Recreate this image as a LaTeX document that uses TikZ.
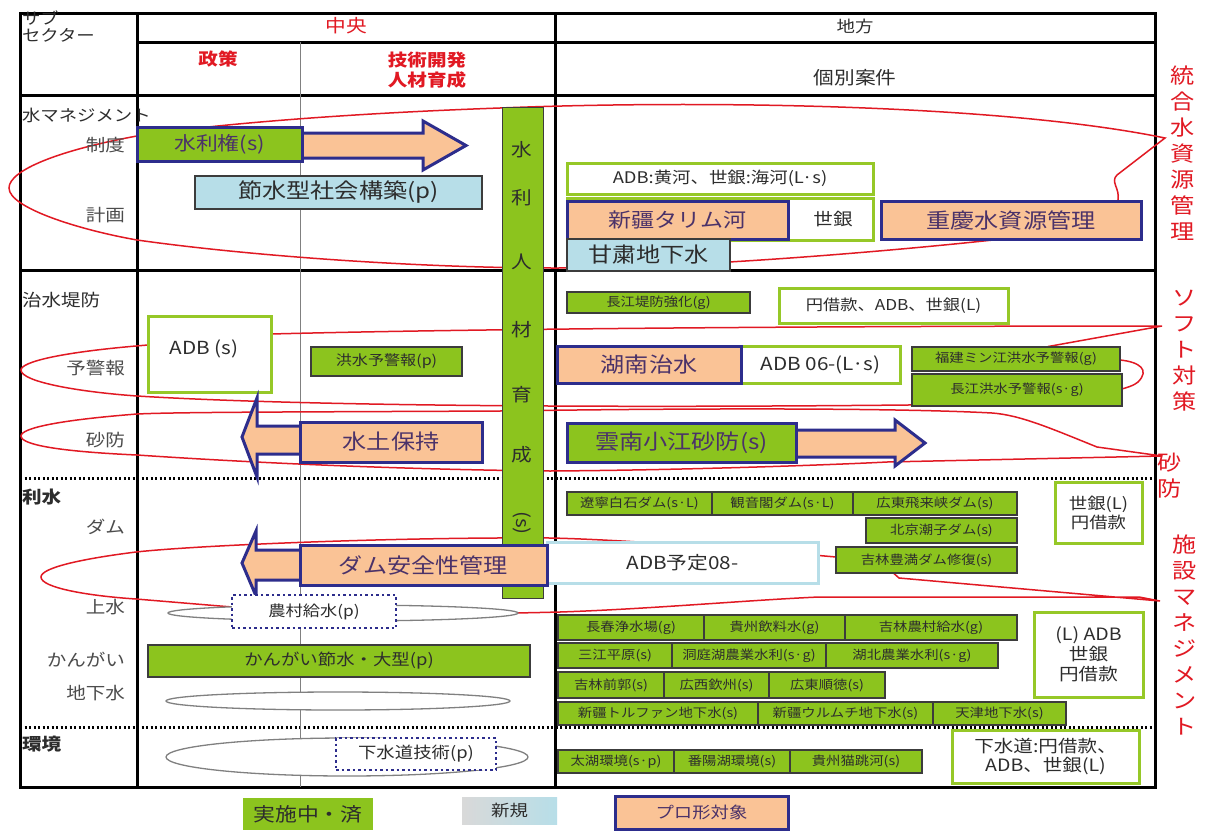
\documentclass[tikz,border=0pt]{standalone}
\usepackage{fontspec}
\setmainfont{Noto Sans CJK JP}[FakeStretch=1.15]
\definecolor{cgreen}{RGB}{140,196,30}
\definecolor{corange}{RGB}{250,195,150}
\definecolor{cnavy}{RGB}{45,45,140}
\definecolor{cblue}{RGB}{183,222,232}
\definecolor{cgb}{RGB}{150,200,40}
\definecolor{cred}{RGB}{225,25,35}
\definecolor{ctext}{RGB}{45,45,45}
\definecolor{cpurp}{RGB}{75,50,105}
\definecolor{cbord}{RGB}{60,60,60}
\newcommand\fs[2]{\fontsize{#1}{#2}\selectfont}
\newcommand\B[8][]{\node[#2,anchor=north west,minimum width={#6pt-#4pt},minimum height={#7pt-#5pt},#1] (#3) at (#4,#5) {#8};}
\tikzset{
 every node/.style={inner sep=0pt,outer sep=0pt,text=ctext},
 gbox/.style={fill=cgreen,draw=cbord,line width=1.2pt,font=\fs{12.5}{15}},
 gnbox/.style={fill=cgreen,draw=cnavy,line width=3pt,font=\fs{21}{25},text=cpurp},
 obox/.style={fill=corange,draw=cnavy,line width=3pt,font=\fs{21}{25},text=cpurp},
 bbox/.style={fill=cblue,draw=cbord,line width=1.2pt,font=\fs{21}{25}},
 wbox/.style={fill=white,draw=cgb,line width=3pt,font=\fs{16}{19},align=center},
 lbbox/.style={fill=white,draw=cblue,line width=3pt,font=\fs{18}{21}},
 dbox/.style={fill=white,draw=cnavy,line width=2.5pt,dash pattern=on 2.5pt off 3pt,font=\fs{15}{18}},
 oarrow/.style={fill=corange,draw=cnavy,line width=3pt,line join=miter},
 rloop/.style={draw=cred,line width=1.5pt},
 gell/.style={draw=gray,line width=1.3pt,fill=white},
 tline/.style={draw=black,line width=3pt},
 dline/.style={draw=black,line width=3pt,dash pattern=on 2pt off 2.5pt},
 hdr/.style={font=\fs{17}{20}},
 redh/.style={font=\bfseries\fs{17}{20},text=cred,align=center},
 labl/.style={font=\fs{16}{19},anchor=west},
 labr/.style={font=\fs{17}{20},anchor=east,text=black!70},
 rlab/.style={font=\fs{21}{26},text=cred,align=center,anchor=north},
 vch/.style={font=\fs{18}{20}},
}
\begin{document}
\begin{tikzpicture}[x=1pt,y=-1pt]
\useasboundingbox (0,0) rectangle (1210,830);
\fill[white] (0,0) rectangle (1210,830);

% ---- table ----
\draw[tline] (20,13) rectangle (1155,787);
\draw[tline] (137,42) -- (1155,42);
\draw[tline] (20,95) -- (1155,95);
\draw[tline] (137,13) -- (137,787);
\draw[tline] (555,13) -- (555,787);
\draw[tline] (20,270) -- (1155,270);
\draw[dline] (20,478) -- (1155,478);
\draw[dline] (20,727) -- (1155,727);
\draw[draw=gray,line width=1pt] (300,42) -- (300,787);

% ---- red loops ----
\draw[rloop] (1165,138) .. controls (1000,104) and (700,100) .. (500,108)
 .. controls (330,114) and (200,126) .. (137,136)
 .. controls (60,150) and (9,170) .. (9,188)
 .. controls (9,208) and (80,230) .. (137,240)
 .. controls (250,256) and (420,268) .. (555,268)
 .. controls (700,268) and (900,250) .. (993,240)
 .. controls (1080,228) and (1116,214) .. (1118,200)
 .. controls (1120,188) and (1110,182) .. (1117,175)
 -- cycle;
\draw[rloop] (1162,326) .. controls (900,326) and (500,328) .. (271,334)
 -- (148,345)
 .. controls (60,352) and (21,362) .. (21,370)
 .. controls (21,382) and (80,392) .. (137,396)
 .. controls (300,406) and (600,408) .. (908,405)
 .. controls (1050,402) and (1125,394) .. (1138,382)
 .. controls (1150,370) and (1140,362) .. (1120,360)
 .. controls (1090,355) and (1065,350) .. (1051,346)
 -- cycle;
\draw[rloop] (1162,456) -- (1097,447)
 .. controls (1050,428) and (1020,415) .. (992,413)
 .. controls (900,408) and (700,408) .. (500,411)
 .. controls (300,412) and (180,412) .. (137,414)
 .. controls (60,420) and (21,428) .. (21,436)
 .. controls (21,446) and (70,452) .. (137,455)
 .. controls (300,466) and (450,470) .. (550,471)
 .. controls (700,470) and (850,464) .. (887,462)
 -- cycle;
\draw[rloop] (1160,601) -- (899,578) -- (890,570) -- (836,557)
 .. controls (700,545) and (600,539) .. (550,538)
 .. controls (400,537) and (200,545) .. (136,552)
 .. controls (80,559) and (41,568) .. (41,577)
 .. controls (41,588) and (90,596) .. (136,599)
 -- (232,607) -- (396,613)
 .. controls (480,614) and (520,613) .. (560,612)
 .. controls (650,609) and (750,600) .. (819,597)
 -- (1139,597) -- cycle;

% ---- gray ellipses ----
\draw[gell] (343,613) ellipse [x radius=175,y radius=8];
\draw[gell] (338,701) ellipse [x radius=172,y radius=9];
\draw[gell] (347,757) ellipse [x radius=181,y radius=19];

% ---- header texts ----
\node[hdr,anchor=north west,align=left,font=\fs{16}{17}] (sub) at (22,11) {サブ\\セクター};
\node[hdr,text=cred,font=\fs{18}{21}] (chuo) at (346,26) {中央};
\node[hdr,font=\fs{16}{19}] (chiho) at (855,26) {地方};
\node[redh] (seisaku) at (218,59) {政策};
\node[redh] (gijutsu) at (427,70) {技術開発\\人材育成};
\node[hdr,font=\fs{18}{21}] (kobetsu) at (855,78) {個別案件};

% ---- row labels ----
\node[labl] (r1) at (22,115) {水マネジメント};
\node[labr] (r1a) at (125,145) {制度};
\node[labr] (r1b) at (125,215) {計画};
\node[labl,font=\fs{17}{20}] (r2) at (22,300) {治水堤防};
\node[labr] (r2a) at (125,368) {予警報};
\node[labr] (r2b) at (125,440) {砂防};
\node[labl,font=\bfseries\fs{17}{20}] (r3) at (22,497) {利水};
\node[labr] (r3a) at (125,527) {ダム};
\node[labr] (r3b) at (125,607) {上水};
\node[labr] (r3c) at (125,660) {かんがい};
\node[labr] (r3d) at (125,693) {地下水};
\node[labl,font=\bfseries\fs{17}{20}] (r4) at (22,744) {環境};

% ---- right red labels ----
\node[rlab] (L1) at (1183,66) {統\\合\\水\\資\\源\\管\\理};
\node[rlab] (L2) at (1185,290) {ソ\\フ\\ト\\対\\策};
\node[rlab] (L3) at (1170,453) {砂\\防};
\node[rlab] (L4) at (1185,535) {施\\設\\マ\\ネ\\ジ\\メ\\ン\\ト};

% ---- water management row ----
\draw[oarrow] (300,133) -- (423,133) -- (423,121) -- (466,145.5) -- (423,170) -- (423,158) -- (300,158) -- cycle;
\B[font=\fs{19}{22}]{gnbox}{suiriken}{137}{127}{302}{161}{水利権(s)}
\B{bbox}{sessui}{195}{176}{482}{209}{節水型社会構築(p)}
\B{wbox}{adbk}{567}{163}{873}{194}{ADB:黄河、世銀:海河(L·s)}
\B{wbox}{sgbox}{567}{198}{873}{240}{}
\node[font=\fs{17}{20}] (sg) at (833,219) {世銀};
\B[font=\fs{20}{24}]{obox}{tarim}{567}{201}{788}{239}{新疆タリム河}
\B{obox}{chongq}{881}{201}{1141}{239}{重慶水資源管理}
\B{bbox}{gansu}{567}{239}{730}{271}{甘粛地下水}

% ---- vertical bar ----
\draw[fill=cgreen,draw=cbord,line width=1pt] (502,107) rectangle (543,598);
\node[vch] (v1) at (522,150) {水};
\node[vch] (v2) at (522,198) {利};
\node[vch] (v3) at (522,262) {人};
\node[vch] (v4) at (522,330) {材};
\node[vch] (v5) at (522,395) {育};
\node[vch] (v6) at (522,455) {成};
\node[vch,rotate=-90] (v7) at (522,523) {(s)};

% ---- flood row ----
\B{wbox}{adbs}{148}{316}{271}{392}{}
\node[font=\fs{18}{21}] (adbst) at (204,349) {ADB (s)};
\B[font=\fs{14}{17}]{gbox}{kozui}{311}{347}{462}{376}{洪水予警報(p)}
\draw[oarrow] (302,426) -- (257,426) -- (257,398) -- (242,437) -- (257,477) -- (257,454) -- (302,454) -- cycle;
\B{obox}{suido}{300}{422}{482}{462}{水土保持}
\B{gbox}{choko}{567}{292}{750}{313}{長江堤防強化(g)}
\B[font=\fs{15}{18}]{wbox}{enshak}{779}{288}{1008}{323}{円借款、ADB、世銀(L)}
\B[font=\fs{18}{21}]{wbox}{adb06}{741}{346}{900}{383}{ADB 06-(L·s)}
\B{obox}{konan}{557}{346}{741}{383}{湖南治水}
\B{gbox}{fukken}{912}{347}{1120}{371}{福建ミン江洪水予警報(g)}
\B{gbox}{chokoy}{912}{374}{1122}{406}{長江洪水予警報(s·g)}
\draw[oarrow] (796,430) -- (895,430) -- (895,420) -- (925,443) -- (895,466) -- (895,457) -- (796,457) -- cycle;
\B{gnbox}{unnan}{567}{423}{796}{462}{雲南小江砂防(s)}

% ---- water use row ----
\B[font=\fs{18}{21}]{lbbox}{adb08}{547}{542}{818}{583}{ADB予定08-}
\draw[oarrow] (302,550) -- (256,550) -- (256,531) -- (242,563) -- (256,596) -- (256,580) -- (302,580) -- cycle;
\B{obox}{damsafe}{300}{545}{547}{585}{ダム安全性管理}
\B{dbox}{noson}{232}{595}{396}{628}{農村給水(p)}
\B[font=\fs{16}{19}]{gbox}{kankai}{148}{645}{530}{677}{かんがい節水・大型(p)}
\B{gbox}{d1}{567}{492}{712}{515}{遼寧白石ダム(s·L)}
\B{gbox}{d2}{712}{492}{853}{515}{観音閣ダム(s·L)}
\B{gbox}{d3}{853}{492}{1017}{515}{広東飛来峡ダム(s)}
\B{gbox}{d4}{866}{518}{1017}{543}{北京潮子ダム(s)}
\B{gbox}{d5}{836}{547}{1017}{573}{吉林豊満ダム修復(s)}
\B{wbox}{sgl}{1055}{482}{1142}{543}{世銀(L)\\円借款}
\B{gbox}{a1}{558}{615}{704}{640}{長春浄水場(g)}
\B{gbox}{a2}{704}{615}{845}{640}{貴州飲料水(g)}
\B{gbox}{a3}{845}{615}{1017}{640}{吉林農村給水(g)}
\B{gbox}{b1}{558}{643}{672}{668}{三江平原(s)}
\B{gbox}{b2}{672}{643}{826}{668}{洞庭湖農業水利(s·g)}
\B{gbox}{b3}{826}{643}{998}{668}{湖北農業水利(s·g)}
\B{gbox}{c1}{558}{672}{664}{698}{吉林前郭(s)}
\B{gbox}{c2}{664}{672}{769}{698}{広西欽州(s)}
\B{gbox}{c3}{769}{672}{885}{698}{広東順徳(s)}
\B{gbox}{e1}{558}{702}{758}{725}{新疆トルファン地下水(s)}
\B{gbox}{e2}{758}{702}{933}{725}{新疆ウルムチ地下水(s)}
\B{gbox}{e3}{933}{702}{1066}{725}{天津地下水(s)}
\B[font=\fs{17}{20}]{wbox}{ladb}{1034}{612}{1143}{697}{(L) ADB\\世銀\\円借款}

% ---- environment row ----
\B[font=\fs{16}{19}]{dbox}{gesui}{336}{738}{496}{770}{下水道技術(p)}
\B{gbox}{f1}{558}{750}{674}{773}{太湖環境(s·p)}
\B{gbox}{f2}{674}{750}{790}{773}{番陽湖環境(s)}
\B{gbox}{f3}{790}{750}{922}{773}{貴州猫跳河(s)}
\B[font=\fs{17}{19}]{wbox}{gesuiyen}{952}{730}{1139}{783}{下水道:円借款、\\ADB、世銀(L)}

% ---- legend ----
\B[draw=none,font=\fs{19}{22}]{gbox}{leg1}{243}{798}{373}{830}{実施中・済}
\node[anchor=north west,minimum width=95pt,minimum height=27pt,left color=black!15,right color=cblue,font=\fs{16}{19}] (leg2) at (462,797) {新規};
\B[font=\fs{16}{19}]{obox}{leg3}{615}{796}{788}{829}{プロ形対象}
\end{tikzpicture}
\end{document}
